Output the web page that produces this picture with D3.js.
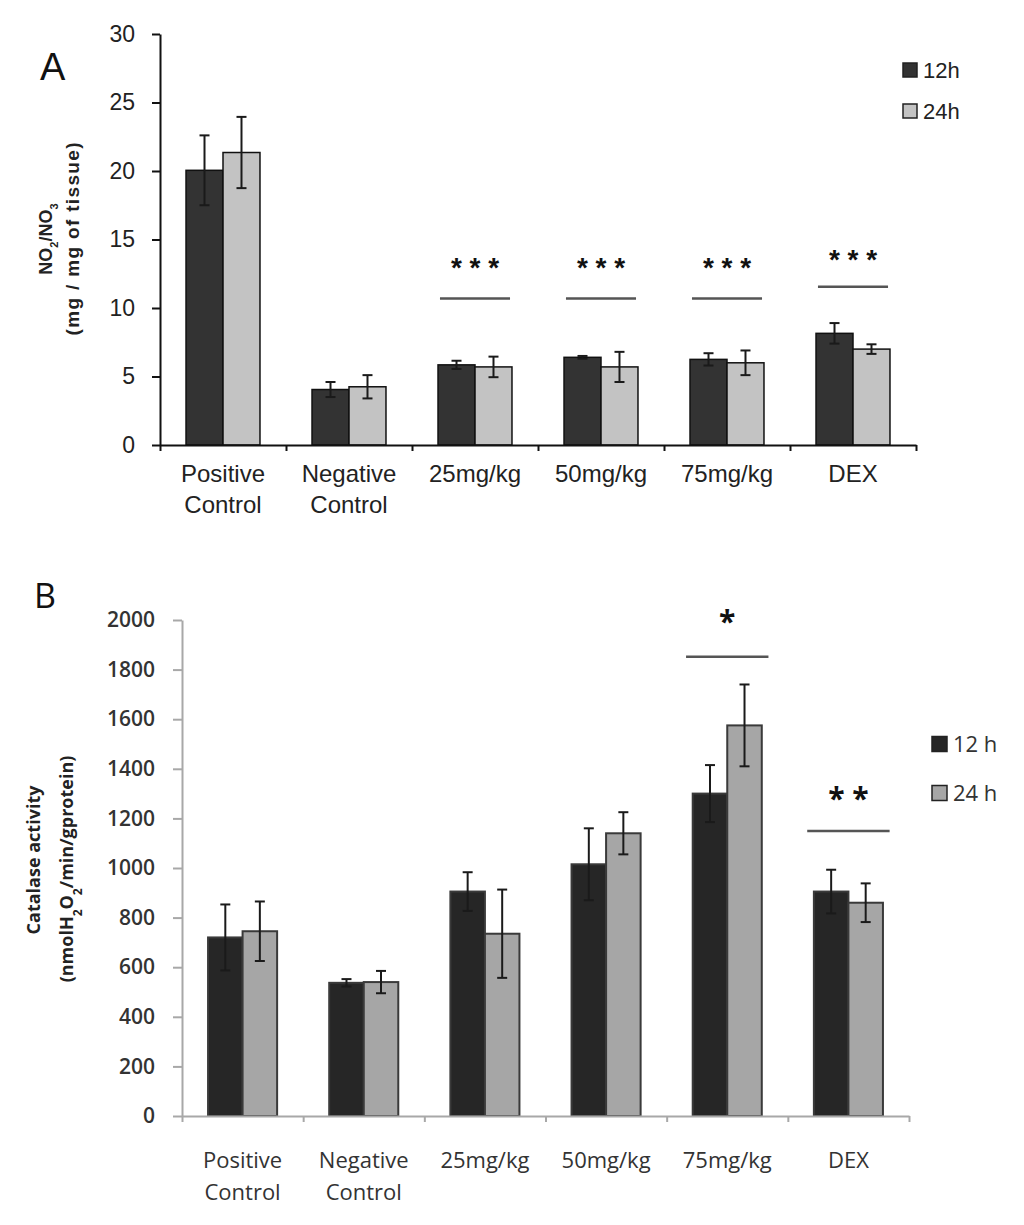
<!DOCTYPE html>
<html><head><meta charset="utf-8">
<script src="https://cdn.jsdelivr.net/npm/d3@7"></script>
<style>body{margin:0;background:#fff}</style>
</head><body>
<svg id="c" width="1024" height="1225"></svg>
<script>
// ---------- data ----------
const categories = ["Positive Control", "Negative Control", "25mg/kg", "50mg/kg", "75mg/kg", "DEX"];

// Panel A: NO2/NO3 (mg / mg of tissue)
const seriesA = ["12h", "24h"];
const a12 = [20.05, 4.05, 5.85, 6.4, 6.25, 8.15];
const a12err = [2.55, 0.55, 0.3, 0.1, 0.45, 0.75];
const a24 = [21.35, 4.25, 5.7, 5.7, 6.0, 7.0];
const a24err = [2.6, 0.85, 0.75, 1.1, 0.9, 0.35];
const ticksA = [0, 5, 10, 15, 20, 25, 30];
const sigACats = ["25mg/kg", "50mg/kg", "75mg/kg", "DEX"];
const sigALine = [10.7, 10.7, 10.7, 11.55];
const sigAStar = [13.4, 13.4, 13.4, 14.0];
const sigALabel = ["* * *", "* * *", "* * *", "* * *"];

// Panel B: Catalase activity
const seriesB = ["12 h", "24 h"];
const b12 = [720, 537, 905, 1015, 1300, 905];
const b12err = [133, 15, 78, 145, 115, 88];
const b24 = [745, 540, 735, 1140, 1575, 860];
const b24err = [120, 45, 178, 85, 165, 78];
const ticksB = [0, 200, 400, 600, 800, 1000, 1200, 1400, 1600, 1800, 2000];
const sigBCats = ["75mg/kg", "DEX"];
const sigBLine = [1852, 1149];
const sigBStar = [2024, 1312];
const sigBLabel = ["*", "* *"];

// ---------- drawing ----------
const svg = d3.select("#c");

function panel(cfg) {
  const g = svg.append("g");
  const x = d3.scaleBand().domain(categories).range(cfg.xRange);
  const y = d3.scaleLinear().domain(cfg.yDomain).range(cfg.yRange);
  const bw = x.bandwidth();
  const gw = bw * cfg.groupFrac;
  const xi = d3.scaleBand().domain(cfg.series).range([(bw - gw) / 2, (bw + gw) / 2]);
  const data = [];
  categories.forEach((c, i) => {
    cfg.series.forEach((s, k) => {
      data.push({c, s, k, v: cfg.vals[k][i], e: cfg.errs[k][i]});
    });
  });

  // bars
  g.selectAll("rect.bar").data(data).join("rect")
    .attr("class", "bar")
    .attr("x", d => x(d.c) + xi(d.s))
    .attr("width", xi.bandwidth())
    .attr("y", d => y(d.v))
    .attr("height", d => y(0) - y(d.v))
    .attr("fill", d => cfg.colors[d.k])
    .attr("stroke", cfg.barStroke)
    .attr("stroke-width", cfg.barStrokeW);

  // error bars
  const eg = g.selectAll("g.err").data(data).join("g").attr("class", "err")
    .attr("stroke", "#1a1a1a").attr("stroke-width", 2);
  const cx = d => x(d.c) + xi(d.s) + xi.bandwidth() / 2;
  eg.append("line").attr("x1", cx).attr("x2", cx)
    .attr("y1", d => y(d.v + d.e)).attr("y2", d => y(d.v - d.e));
  eg.append("line").attr("x1", d => cx(d) - 5).attr("x2", d => cx(d) + 5)
    .attr("y1", d => y(d.v + d.e)).attr("y2", d => y(d.v + d.e));
  eg.append("line").attr("x1", d => cx(d) - 5).attr("x2", d => cx(d) + 5)
    .attr("y1", d => y(d.v - d.e)).attr("y2", d => y(d.v - d.e));

  // y axis
  const ya = g.append("g").attr("transform", `translate(${cfg.xRange[0]},0)`)
    .call(d3.axisLeft(y).tickValues(cfg.ticks).tickFormat(d3.format("d"))
      .tickSize(cfg.tickLen).tickSizeOuter(0).tickPadding(cfg.tickPad));
  ya.select(".domain").attr("stroke", cfg.axisColor).attr("stroke-width", 2);
  ya.selectAll(".tick line").attr("stroke", cfg.axisColor).attr("stroke-width", 2);
  ya.selectAll(".tick text").attr("font-family", cfg.font).attr("font-size", cfg.tickFont)
    .attr("font-weight", cfg.tickWeight).attr("fill", cfg.textColor);

  // x axis (ticks at category boundaries)
  const xb = d3.scaleLinear().domain([0, categories.length]).range(cfg.xRange);
  const xa = g.append("g").attr("transform", `translate(0,${y(0)})`)
    .call(d3.axisBottom(xb).ticks(categories.length).tickFormat("").tickSize(6).tickSizeOuter(0));
  xa.select(".domain").attr("stroke", cfg.axisColor).attr("stroke-width", 2);
  xa.selectAll(".tick line").attr("stroke", cfg.axisColor).attr("stroke-width", 2);

  // category labels
  const lab = g.selectAll("text.cat").data(categories).join("text").attr("class", "cat")
    .attr("text-anchor", "middle").attr("font-family", cfg.font).attr("font-size", cfg.catFont)
    .attr("fill", cfg.textColor);
  lab.each(function(c) {
    const parts = c.split(" ");
    const t = d3.select(this);
    parts.forEach((p, j) => {
      t.append("tspan").attr("x", x(c) + bw / 2).attr("y", cfg.catY[j]).attr("dy", "0.35em").text(p);
    });
  });

  // significance
  cfg.sigCats.forEach((c, i) => {
    const mx = x(c) + bw / 2;
    const hw = bw * cfg.sigFrac / 2;
    g.append("line").attr("x1", mx - hw).attr("x2", mx + hw)
      .attr("y1", y(cfg.sigLine[i])).attr("y2", y(cfg.sigLine[i]))
      .attr("stroke", "#555").attr("stroke-width", 2.5);
    g.append("text").attr("x", mx).attr("y", y(cfg.sigStar[i]) + cfg.starSize * cfg.starShift)
      .attr("text-anchor", "middle").attr("font-family", cfg.starFont).attr("font-weight", "bold")
      .attr("font-size", cfg.starSize).attr("fill", "#111").text(cfg.sigLabel[i]);
  });

  // legend
  cfg.series.forEach((s, k) => {
    g.append("rect").attr("x", cfg.legX).attr("y", cfg.legY[k] - cfg.legSize / 2)
      .attr("width", cfg.legSize).attr("height", cfg.legSize)
      .attr("fill", cfg.colors[k]).attr("stroke", "#222").attr("stroke-width", 1.5);
    g.append("text").attr("x", cfg.legX + cfg.legSize + 6).attr("y", cfg.legY[k]).attr("dy", "0.35em")
      .attr("font-family", cfg.font).attr("font-size", cfg.legFont).attr("fill", cfg.textColor).text(s);
  });
  return g;
}

// Panel A
panel({
  xRange: [160, 916], yDomain: [0, 30], yRange: [445, 34], groupFrac: 0.587,
  series: seriesA, vals: [a12, a24], errs: [a12err, a24err],
  colors: ["#333333", "#c3c3c3"], barStroke: "#111", barStrokeW: 1.5,
  ticks: ticksA, tickLen: 8, tickPad: 17, axisColor: "#111",
  font: "Liberation Sans, Arial, sans-serif", tickFont: 23, tickWeight: "normal", textColor: "#222",
  catFont: 24, catY: [474, 505],
  sigCats: sigACats, sigLine: sigALine, sigStar: sigAStar, sigLabel: sigALabel, sigFrac: 0.556,
  starFont: "Liberation Sans, Arial, sans-serif", starSize: 28, starShift: 0.57,
  legX: 903, legY: [70, 111], legSize: 14, legFont: 22
});

// Panel B
panel({
  xRange: [182, 909], yDomain: [0, 2000], yRange: [1116, 620], groupFrac: 0.57,
  series: seriesB, vals: [b12, b24], errs: [b12err, b24err],
  colors: ["#262626", "#a6a6a6"], barStroke: "#3a3a3a", barStrokeW: 2,
  ticks: ticksB, tickLen: 9, tickPad: 18, axisColor: "#a8a8a8",
  font: "Open Sans, sans-serif", tickFont: 21, tickWeight: 600, textColor: "#333",
  catFont: 22, catY: [1160, 1192],
  sigCats: sigBCats, sigLine: sigBLine, sigStar: sigBStar, sigLabel: sigBLabel, sigFrac: 0.68,
  starFont: "Open Sans, sans-serif", starSize: 30, starShift: 0.6,
  legX: 932, legY: [744, 793], legSize: 15, legFont: 22
});

// panel letters
svg.append("text").attr("x", 40).attr("y", 80).attr("font-family", "Liberation Sans, Arial, sans-serif")
  .attr("font-size", 38).attr("fill", "#111").text("A");
svg.append("text").attr("x", 34).attr("y", 608).attr("font-family", "Open Sans, sans-serif")
  .attr("font-size", 34).attr("fill", "#111").text("B");

// y-axis titles
const tA = svg.append("text").attr("transform", "translate(52,239) rotate(-90)")
  .attr("text-anchor", "middle").attr("font-family", "Liberation Sans, Arial, sans-serif")
  .attr("font-weight", "bold").attr("font-size", 18).attr("fill", "#222");
tA.append("tspan").text("NO");
tA.append("tspan").attr("font-size", 11).attr("baseline-shift", "sub").text("2");
tA.append("tspan").text("/NO");
tA.append("tspan").attr("font-size", 11).attr("baseline-shift", "sub").text("3");
svg.append("text").attr("transform", "translate(79,239) rotate(-90)")
  .attr("text-anchor", "middle").attr("font-family", "Liberation Sans, Arial, sans-serif")
  .attr("font-weight", "bold").attr("font-size", 19).attr("fill", "#222")
  .attr("textLength", 193).attr("lengthAdjust", "spacing").text("(mg / mg of tissue)");

svg.append("text").attr("transform", "translate(40,860) rotate(-90)")
  .attr("text-anchor", "middle").attr("font-family", "Open Sans, sans-serif")
  .attr("font-weight", "bold").attr("font-size", 18).attr("fill", "#222").text("Catalase activity");
const tB = svg.append("text").attr("transform", "translate(73,869) rotate(-90)")
  .attr("text-anchor", "middle").attr("font-family", "Open Sans, sans-serif")
  .attr("font-weight", "bold").attr("font-size", 18).attr("fill", "#222");
tB.append("tspan").text("(nmolH");
tB.append("tspan").attr("font-size", 12).attr("baseline-shift", "sub").text("2");
tB.append("tspan").text("O");
tB.append("tspan").attr("font-size", 12).attr("baseline-shift", "sub").text("2");
tB.append("tspan").text("/min/gprotein)");
</script>
</body></html>
